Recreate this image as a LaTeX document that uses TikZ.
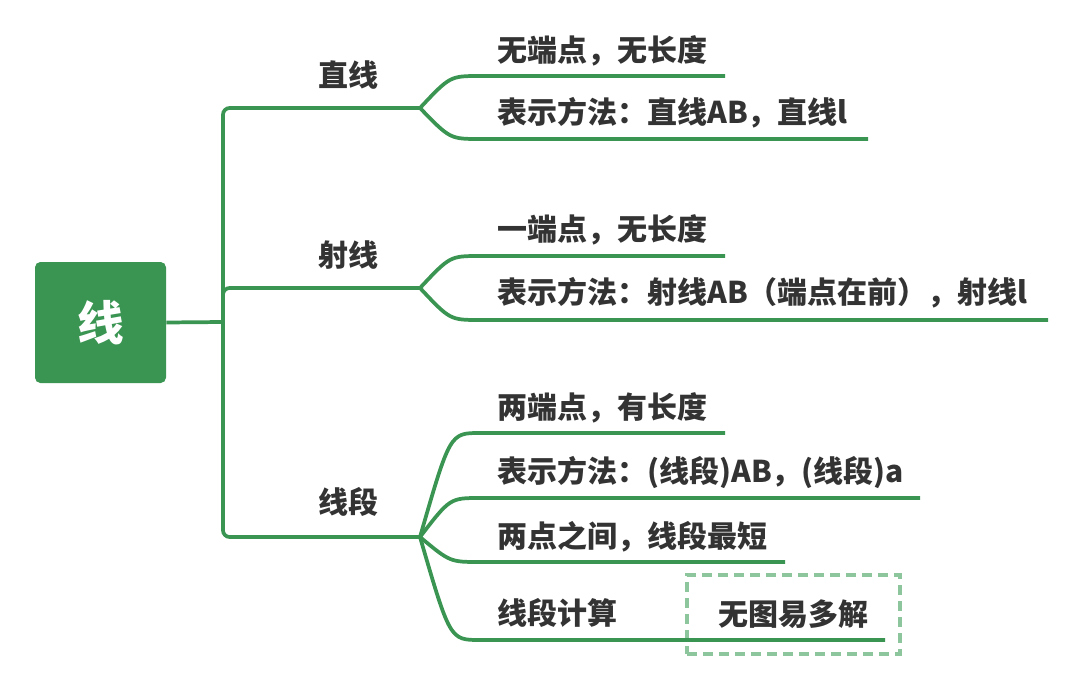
\documentclass[tikz,border=0pt]{standalone}
\usepackage{fontspec}
\newfontfamily\cjk{Noto Sans CJK SC}
\definecolor{lg}{HTML}{3A9552}
\definecolor{tc}{HTML}{333333}
\definecolor{dg}{HTML}{8DC69C}
\begin{document}
\begin{tikzpicture}[x=0.75pt,y=-0.75pt,
  br/.style={draw=lg, line width=2.8pt},
  lbl/.style={font=\cjk\bfseries\fontsize{22.5pt}{26pt}\selectfont, text=tc, inner sep=0pt},
  rootbox/.style={fill=lg, rounded corners=4pt, minimum width=98.25pt, minimum height=90.75pt,
    font=\cjk\bfseries\fontsize{35pt}{40pt}\selectfont, text=white, inner sep=0pt},
  dbox/.style={draw=dg, line width=2.3pt, dash pattern=on 7.5pt off 4.5pt,
    minimum width=159.75pt, minimum height=59.25pt, inner sep=0pt,
    font=\cjk\bfseries\fontsize{22.5pt}{26pt}\selectfont, text=tc}]
\useasboundingbox (0,0) rectangle (1084,677);

% root
\node[rootbox] (root) at (100.5,322.5) {线};

% spine coordinates
\coordinate (s) at (223,322);
\coordinate (s1) at (223,108);
\coordinate (s2) at (223,288);
\coordinate (s3) at (223,537);
\coordinate (f1) at (420,108);
\coordinate (f2) at (420,288);
\coordinate (f3) at (420,537);

\draw[br] (root.east) -- (s);
\draw[br, rounded corners=5pt] (f1) -- (s1) -- (s3) -- (f3);
\draw[br, rounded corners=5pt] (s) -- (s2) -- (f2);

% topics
\node[lbl] (t1) at (348,75) {直线};
\node[lbl] (t2) at (348,255) {射线};
\node[lbl] (t3) at (348,502) {线段};

% dashed box
\node[dbox] (d) at (793.5,614.5) {无图易多解};

% children of 直线
\coordinate (a1s) at (480,76);  \coordinate (a1e) at (725,76);
\coordinate (a2s) at (480,139); \coordinate (a2e) at (868,139);
\node[lbl, anchor=west] (a1) at (497,51) {无端点，无长度};
\node[lbl, anchor=west] (a2) at (497,113) {表示方法：直线AB，直线l};
\draw[br] (f1) .. controls ([xshift=-22.5pt]a1s) .. (a1s) -- (a1e);
\draw[br] (f1) .. controls ([xshift=-22.5pt]a2s) .. (a2s) -- (a2e);

% children of 射线
\coordinate (b1s) at (480,256); \coordinate (b1e) at (725,256);
\coordinate (b2s) at (480,320); \coordinate (b2e) at (1048,320);
\node[lbl, anchor=west] (b1) at (497,230) {一端点，无长度};
\node[lbl, anchor=west] (b2) at (497,293) {表示方法：射线AB（端点在前），射线l};
\draw[br] (f2) .. controls ([xshift=-22.5pt]b1s) .. (b1s) -- (b1e);
\draw[br] (f2) .. controls ([xshift=-22.5pt]b2s) .. (b2s) -- (b2e);

% children of 线段
\coordinate (c1s) at (480,433); \coordinate (c1e) at (725,433);
\coordinate (c2s) at (480,498); \coordinate (c2e) at (920,498);
\coordinate (c3s) at (480,562); \coordinate (c3e) at (785,562);
\coordinate (c4s) at (480,640); \coordinate (c4e) at (885,640);
\node[lbl, anchor=west] (c1) at (497,408) {两端点，有长度};
\node[lbl, anchor=west] (c2) at (497,472) {表示方法：(线段)AB，(线段)a};
\node[lbl, anchor=west] (c3) at (497,537) {两点之间，线段最短};
\node[lbl, anchor=west] (c4) at (497,613) {线段计算};
\draw[br] (f3) .. controls ([xshift=-22.5pt]c1s) .. (c1s) -- (c1e);
\draw[br] (f3) .. controls ([xshift=-22.5pt]c2s) .. (c2s) -- (c2e);
\draw[br] (f3) .. controls ([xshift=-22.5pt]c3s) .. (c3s) -- (c3e);
\draw[br] (f3) .. controls ([xshift=-22.5pt]c4s) .. (c4s) -- (c4e);
\end{tikzpicture}
\end{document}
